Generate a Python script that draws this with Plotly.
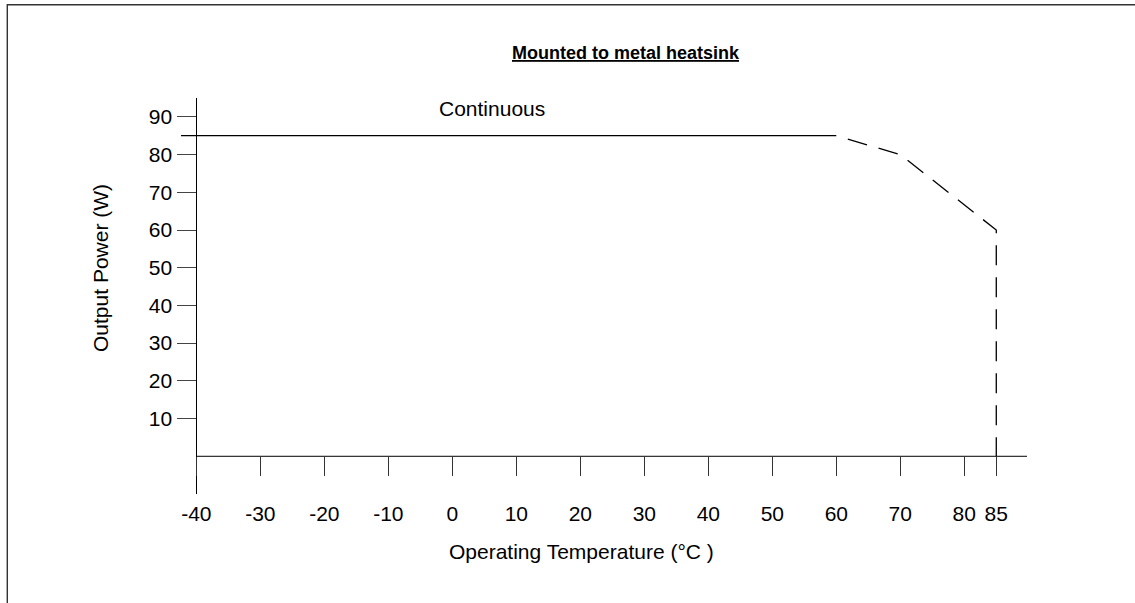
import plotly.graph_objects as go

# ---- data ----
cont_temp = [-42.4, 60]
cont_power = [85, 85]
derate_temp = [60, 70, 85, 85]
derate_power = [85, 80, 60, 0]

x_tickvals = [-40, -30, -20, -10, 0, 10, 20, 30, 40, 50, 60, 70, 80, 85]
x_ticktext = [str(v) for v in x_tickvals]
y_tickvals = [10, 20, 30, 40, 50, 60, 70, 80, 90]
y_ticktext = [str(v) for v in y_tickvals]

X_RANGE = [-42.4, 89.8]
Y_RANGE = [-10, 95]
X_AXIS_START = -40

title_text = "Mounted to metal heatsink"
x_title = "Operating Temperature (°C )"
y_title = "Output Power (W)"
curve_label = "Continuous"

# ---- layout geometry ----
W, H = 1135, 603
L, R, T, B = 181, 108, 98, 109
PW, PH = W - L - R, H - T - B
FONT = "Liberation Sans, Arial, sans-serif"


def px_x(px):
    return (px - L) / PW


def px_y(py):
    return (H - B - py) / PH


fig = go.Figure()
fig.add_trace(go.Scatter(x=cont_temp, y=cont_power, mode="lines",
                         line=dict(color="black", width=1.2), hoverinfo="skip"))
fig.add_trace(go.Scatter(x=derate_temp, y=derate_power, mode="lines",
                         line=dict(color="black", width=1.3, dash="0px,12px,20px,0px"),
                         hoverinfo="skip"))

ypos = (X_AXIS_START - X_RANGE[0]) / (X_RANGE[1] - X_RANGE[0])
xpos = (0 - Y_RANGE[0]) / (Y_RANGE[1] - Y_RANGE[0])

fig.update_layout(
    width=W, height=H,
    margin=dict(l=L, r=R, t=T, b=B, autoexpand=False),
    plot_bgcolor="white", paper_bgcolor="white",
    showlegend=False,
    font=dict(family=FONT, color="black", size=21),
    xaxis=dict(range=X_RANGE, anchor="free", position=xpos,
               showline=False, showgrid=False, zeroline=False,
               ticks="outside", ticklen=19, tickwidth=1, tickcolor="#333",
               tickvals=x_tickvals, ticktext=x_ticktext,
               tickfont=dict(size=21, family=FONT, color="black"),
               ticklabelstandoff=20),
    yaxis=dict(range=Y_RANGE, anchor="free", position=ypos,
               showline=True, linecolor="black", linewidth=1,
               showgrid=False, zeroline=False,
               ticks="outside", ticklen=19, tickwidth=1, tickcolor="#444",
               tickvals=y_tickvals, ticktext=y_ticktext,
               tickfont=dict(size=21, family=FONT, color="black"),
               ticklabelstandoff=1),
    shapes=[
        # x axis line at zero
        dict(type="line", xref="x", yref="y", x0=X_AXIS_START, x1=X_RANGE[1], y0=0, y1=0,
             line=dict(color="black", width=1)),
        # outer frame (top and left visible)
        dict(type="rect", xref="paper", yref="paper",
             x0=px_x(7.3), x1=px_x(W + 10), y0=px_y(H + 10), y1=px_y(4.7),
             line=dict(color="#333", width=1.4), fillcolor="rgba(0,0,0,0)"),
    ],
    annotations=[
        dict(text="<b><u>" + title_text + "</u></b>", xref="paper", yref="paper",
             x=px_x(626), y=px_y(53), xanchor="center", yanchor="middle",
             showarrow=False, font=dict(size=18, family=FONT, color="black")),
        dict(text=curve_label, xref="paper", yref="paper",
             x=px_x(492), y=px_y(108.5), xanchor="center", yanchor="middle",
             showarrow=False, font=dict(size=21, family=FONT, color="black")),
        dict(text=x_title, xref="paper", yref="paper",
             x=px_x(581), y=px_y(551), xanchor="center", yanchor="middle",
             showarrow=False, font=dict(size=21, family=FONT, color="black")),
        dict(text=y_title, xref="paper", yref="paper", textangle=-90,
             x=px_x(100), y=px_y(268), xanchor="center", yanchor="middle",
             showarrow=False, font=dict(size=21, family=FONT, color="black")),
    ],
)

fig.write_html(
    "out.html",
    config={"displayModeBar": False},
    post_script="document.body.style.margin='0';document.body.style.overflow='hidden';",
)
